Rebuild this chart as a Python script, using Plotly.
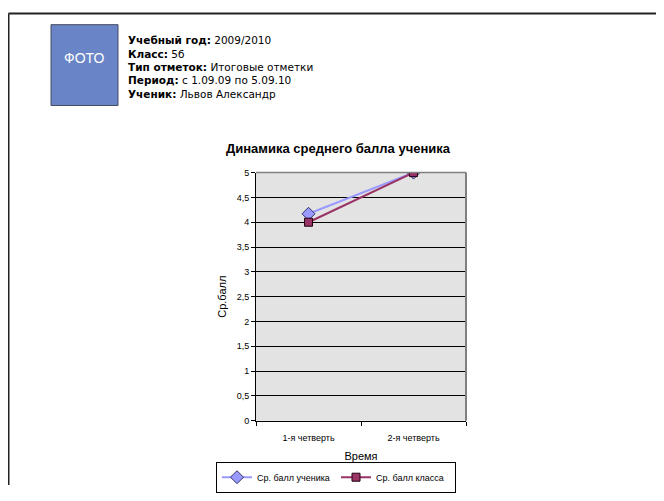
import plotly.graph_objects as go

categories = ["1-я четверть", "2-я четверть"]
student_avg = [4.17, 5.0]
class_avg = [4.0, 5.0]
y_ticks = [0, 0.5, 1, 1.5, 2, 2.5, 3, 3.5, 4, 4.5, 5]
y_tick_labels = ["0", "0,5", "1", "1,5", "2", "2,5", "3", "3,5", "4", "4,5", "5"]

info_labels = ["Учебный год:", "Класс:", "Тип отметок:", "Период:", "Ученик:"]
info_values = ["2009/2010", "5б", "Итоговые отметки", "с 1.09.09 по 5.09.10", "Львов Александр"]

# the page body has an 8px margin; keep the figure inside the 664x501 window
OFF = 8
W, H = 664 - 2 * OFF, 501 - 2 * OFF
def px(x): return (x - OFF) / W
def py(y): return 1 - (y - OFF) / H

AX_FONT = "Arial, Liberation Sans, sans-serif"

fig = go.Figure()
fig.add_trace(go.Scatter(
    x=[0, 1], y=student_avg, name="Ср. балл ученика", mode="lines+markers",
    line=dict(color="#9999ff", width=2),
    marker=dict(symbol="diamond", size=10, color="#9999ff", line=dict(color="#333366", width=1)),
))
fig.add_trace(go.Scatter(
    x=[0, 1], y=class_avg, name="Ср. балл класса", mode="lines+markers",
    line=dict(color="#993366", width=2),
    marker=dict(symbol="square", size=8, color="#993366", line=dict(color="#220011", width=1)),
))

shapes = [
    dict(type="line", xref="paper", yref="paper", x0=px(8.5), x1=1.0, y0=py(8.5), y1=py(8.5),
         line=dict(color="#222222", width=2)),
    dict(type="line", xref="paper", yref="paper", x0=px(8.5), x1=px(8.5), y0=py(8.5), y1=0,
         line=dict(color="#222222", width=2)),
    dict(type="rect", xref="paper", yref="paper", x0=px(51), x1=px(118), y0=py(103), y1=py(20),
         fillcolor="#6a85c7", line=dict(color="#404a60", width=1)),
    dict(type="line", xref="paper", yref="paper", x0=px(256), x1=px(466), y0=py(172), y1=py(172),
         line=dict(color="#808080", width=1.5)),
    dict(type="line", xref="paper", yref="paper", x0=px(466), x1=px(466), y0=py(172), y1=py(427),
         line=dict(color="#808080", width=2)),
]

annotations = [
    dict(x=px(84), y=py(54), xref="paper", yref="paper", xanchor="center", yanchor="middle",
         text="ФОТО", showarrow=False,
         font=dict(family=AX_FONT, size=14, color="white")),
]
for i, (lab, val) in enumerate(zip(info_labels, info_values)):
    annotations.append(dict(
        x=px(126), y=py(36 + i * 13.7), xref="paper", yref="paper", xanchor="left", yanchor="middle",
        text=f"<b>{lab}</b> {val}", showarrow=False,
        font=dict(family="Verdana, DejaVu Sans", size=10.5, color="#000000"),
    ))

fig.update_layout(
    width=W, height=H,
    margin=dict(l=0, r=0, t=0, b=0),
    paper_bgcolor="white",
    plot_bgcolor="#e3e3e3",
    showlegend=True,
    title=dict(text="<b>Динамика среднего балла ученика</b>", x=px(338), y=py(148),
               xanchor="center", yanchor="middle",
               font=dict(family=AX_FONT, size=13, color="black")),
    xaxis=dict(domain=[px(256), px(466)], range=[-0.5, 1.5],
               tickvals=[0, 1], ticktext=categories,
               showgrid=False, zeroline=False, showline=True, linecolor="black", linewidth=1,
               ticks="", ticklabelstandoff=8,
               minor=dict(tickvals=[-0.5, 0.5, 1.5], ticks="outside", ticklen=4,
                          tickcolor="black", showgrid=False),
               tickfont=dict(family=AX_FONT, size=9, color="black"),
               title=dict(text="Время", font=dict(family=AX_FONT, size=11, color="black"),
                          standoff=10),
               fixedrange=True),
    yaxis=dict(domain=[py(427), py(172)], range=[0, 5],
               tickvals=y_ticks, ticktext=y_tick_labels,
               showgrid=True, gridcolor="black", gridwidth=1, zeroline=False,
               showline=True, linecolor="black", linewidth=1,
               ticks="outside", ticklen=4, tickcolor="black",
               tickfont=dict(family=AX_FONT, size=9, color="black"),
               title=dict(text="Ср.балл", font=dict(family=AX_FONT, size=11, color="black"),
                          standoff=7),
               fixedrange=True),
    legend=dict(orientation="h", x=px(336), y=py(485), xanchor="center", yanchor="middle",
                bordercolor="black", borderwidth=1, bgcolor="white",
                font=dict(family=AX_FONT, size=9, color="black"),
                entrywidth=74, entrywidthmode="pixels", itemwidth=30, tracegroupgap=0),
    shapes=shapes,
    annotations=annotations,
)

fig.write_html("out.html")
